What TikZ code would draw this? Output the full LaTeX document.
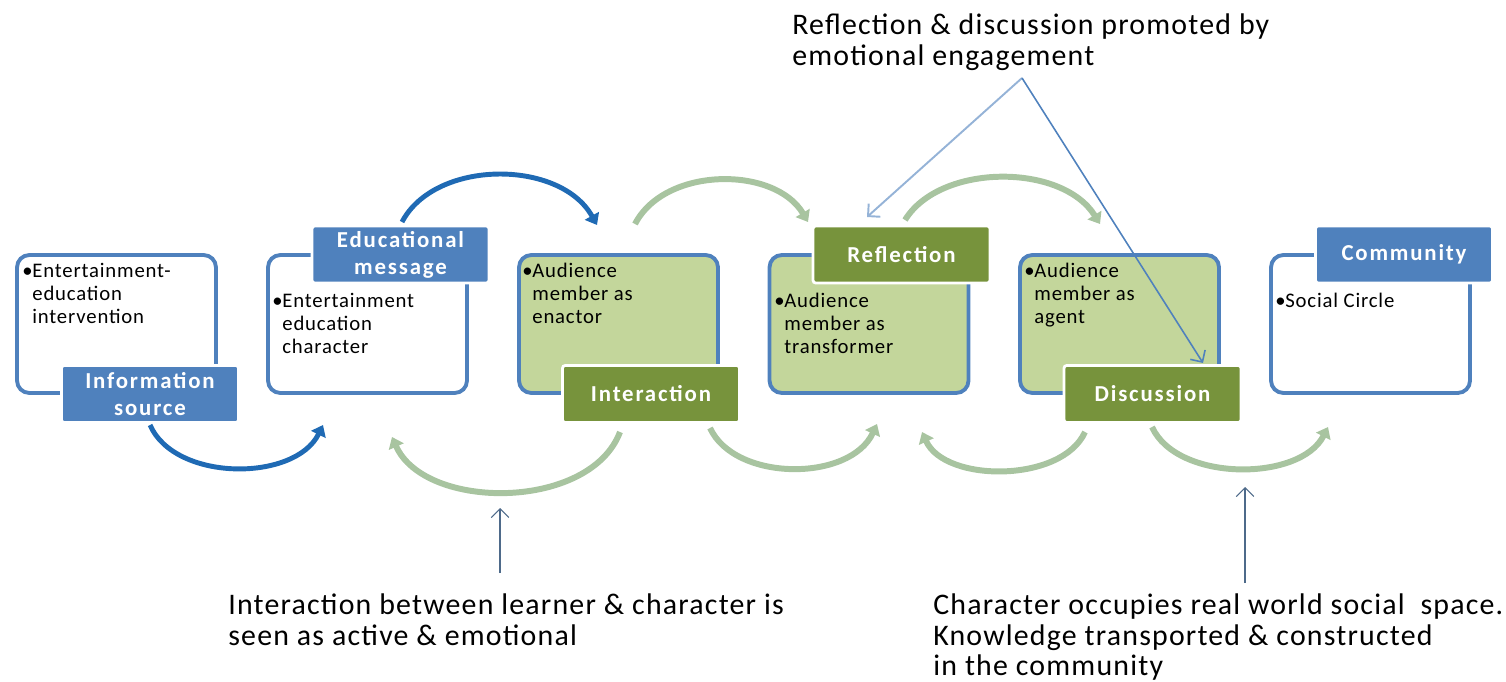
\documentclass[tikz,border=0pt]{standalone}
\usepackage{fontspec}
\setmainfont{Carlito}
\newfontfamily\boxfont[LetterSpace=4]{Carlito}
\newfontfamily\labfont[LetterSpace=8]{Carlito}
\newfontfamily\notefont[LetterSpace=4]{Carlito}
\usetikzlibrary{arrows.meta}
\definecolor{bordblue}{HTML}{4F81BD}
\definecolor{labblue}{HTML}{4F81BD}
\definecolor{labgreen}{HTML}{77933C}
\definecolor{boxgreen}{HTML}{C3D69B}
\definecolor{arcgreen}{HTML}{A8C4A0}
\definecolor{arcblue}{HTML}{1F6AB4}
\definecolor{linedark}{HTML}{4F81BD}
\definecolor{linelight}{HTML}{95B3D7}
\definecolor{arrowgray}{HTML}{4E6A8A}
\newcommand{\bul}{\makebox[0.2cm][l]{\textbullet}}
\newcommand{\ind}{\hspace*{0.2cm}}
\tikzset{
  wbox/.style={draw=bordblue, line width=2.2pt, rounded corners=7pt, minimum width=3.98cm, minimum height=2.76cm, inner sep=0pt, fill=white},
  gbox/.style={wbox, fill=boxgreen},
  lab/.style={draw=white, line width=1.6pt, rounded corners=1.5pt, minimum width=3.54cm, minimum height=1.14cm, text=white, font=\labfont\bfseries\fontsize{13}{15.4}\selectfont, align=center, inner sep=0pt},
  blab/.style={lab, fill=labblue},
  glab/.style={lab, fill=labgreen},
  btext/.style={anchor=north west, inner sep=0pt, align=left, font=\boxfont\fontsize{11.8}{13.1}\selectfont},
  note/.style={anchor=north west, inner sep=0pt, align=left, font=\notefont\fontsize{17}{17.6}\selectfont},
  garc/.style={draw=arcgreen, line width=3.4pt, -{Triangle[length=6pt,width=9pt]}},
  barc/.style={draw=arcblue, line width=2.8pt, -{Triangle[length=6pt,width=9pt]}},
  pointer/.style={line width=0.9pt, -{Straight Barb[length=5pt,width=10pt]}}
}
\begin{document}
\begin{tikzpicture}[x=0.02cm, y=-0.02cm]
\useasboundingbox (0,0) rectangle (1506,682);

% boxes
\node[wbox] (b1) at (116.5,324) {};
\node[wbox] (b2) at (367.5,324) {};
\node[gbox] (b3) at (618.5,324) {};
\node[gbox] (b4) at (869,324) {};
\node[gbox] (b5) at (1119.5,324) {};
\node[wbox] (b6) at (1370.5,324) {};

% box texts
\node[btext] (t1) at (22,263) {\bul Entertainment-\\\ind education\\\ind intervention};
\node[btext] (t2) at (272,293) {\bul Entertainment\\\ind education\\\ind character};
\node[btext] (t3) at (522,263) {\bul Audience\\\ind member as\\\ind enactor};
\node[btext] (t4) at (774,293) {\bul Audience\\\ind member as\\\ind transformer};
\node[btext] (t5) at (1024,263) {\bul Audience\\\ind member as\\\ind agent};
\node[btext] (t6) at (1275,293) {\bul Social Circle};

% labels
\node[blab] (l1) at (150,394) {Information\\source};
\node[blab] (l2) at (400.5,254.5) {Educational\\message};
\node[glab] (l3) at (651,394) {Interaction};
\node[glab] (l4) at (901.5,254.5) {Reflection};
\node[glab] (l5) at (1152.5,394) {Discussion};
\node[blab] (l6) at (1404,254.5) {Community};

% arc end coordinates
\coordinate (a1s) at (402,222);  \coordinate (a1e) at (597,225);
\coordinate (a2s) at (150,425);  \coordinate (a2e) at (323,425);
\coordinate (a3s) at (635,224);  \coordinate (a3e) at (808,222);
\coordinate (a4s) at (905,220);  \coordinate (a4e) at (1100,224);
\coordinate (a5s) at (620,432);  \coordinate (a5e) at (392,437);
\coordinate (a6s) at (710,428);  \coordinate (a6e) at (877,424);
\coordinate (a7s) at (1085,432); \coordinate (a7e) at (922,432);
\coordinate (a8s) at (1152,427); \coordinate (a8e) at (1328,427);

% arcs
\draw[barc] (a1s) .. controls (435,159) and (560,159) .. (a1e);
\draw[barc] (a2s) .. controls (175,482) and (295,482) .. (a2e);
\draw[garc] (a3s) .. controls (665,166) and (775,166) .. (a3e);
\draw[garc] (a4s) .. controls (940,163) and (1062,163) .. (a4e);
\draw[garc] (a5s) .. controls (590,511) and (425,511) .. (a5e);
\draw[garc] (a6s) .. controls (735,482) and (850,482) .. (a6e);
\draw[garc] (a7s) .. controls (1062,483) and (945,483) .. (a7e);
\draw[garc] (a8s) .. controls (1177,482) and (1300,482) .. (a8e);

% notes
\node[note] (n1) at (792,13) {Reflection \& discussion promoted by\\emotional engagement};
\node[note] (n2) at (228,593) {Interaction between learner \& character is\\seen as active \& emotional};
\node[note] (n3) at (933,593) {Character occupies real world social\ \ space.\\Knowledge transported \& constructed\\in the community};

% pointers
\coordinate (apex) at (1022,78);
\coordinate (refl) at (867,217);
\coordinate (disc) at (1203,363);
\coordinate (p2s) at (500,573); \coordinate (p2e) at (500,508);
\coordinate (p3s) at (1245,583); \coordinate (p3e) at (1245,487);
\draw[pointer, draw=linelight, line width=1.1pt] (apex) -- (refl);
\draw[pointer, draw=linedark] (apex) -- (disc);
\draw[pointer, draw=arrowgray, line width=0.6pt] (p2s) -- (p2e);
\draw[pointer, draw=arrowgray, line width=0.6pt] (p3s) -- (p3e);
\end{tikzpicture}
\end{document}
